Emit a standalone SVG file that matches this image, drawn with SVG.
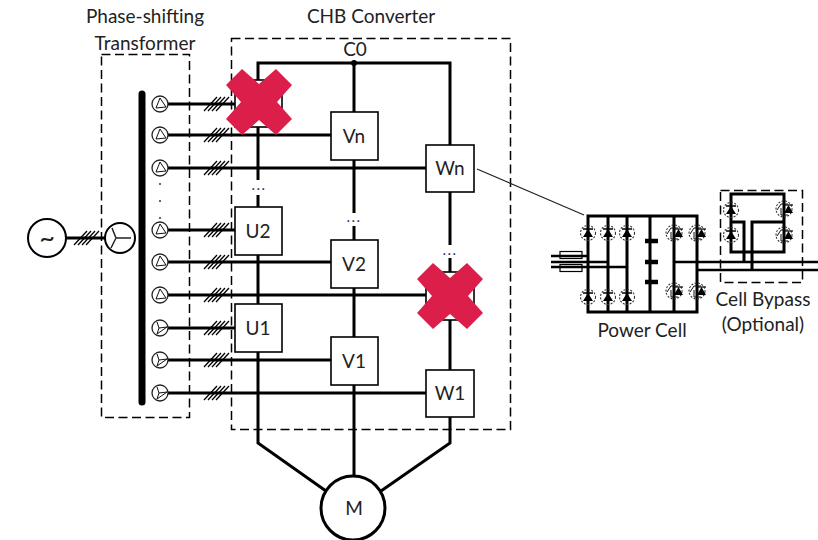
<svg xmlns="http://www.w3.org/2000/svg" xmlns:xlink="http://www.w3.org/1999/xlink" width="818" height="540" viewBox="0 0 818 540">
<style>
text{font-family:"Lato","Liberation Sans",sans-serif;font-size:19px;fill:#222;text-anchor:middle}
.w{fill:none;stroke:#000;stroke-width:3}
.t{fill:none;stroke:#111;stroke-width:1}
.box{fill:#fff;stroke:#000;stroke-width:1.6}
.dash{fill:none;stroke:#000;stroke-width:1.5;stroke-dasharray:9 4.500}
.x{fill:#dc1f4a}
.h{stroke:#000;stroke-width:1.3}
.c{fill:#fff;stroke:#222;stroke-width:1.3}
.dc{fill:none;stroke:#333;stroke-width:1.1;stroke-dasharray:2 1.5}
.f{fill:#000}
.dots{font-size:15px;letter-spacing:1.500px;fill:#1f3a6e}
</style>
<defs>
<g id="hash" class="h"><path d="M0 7L13-7M4 7L17-7M8 7L21-7M12 7L25-7"/></g>
<g id="delta"><circle class="c" r="8"/><path class="t" d="M0-6L-4 4L6 3Z"/></g>
<g id="wye"><circle class="c" r="8"/><path class="t" d="M-1 0L-3-6M-1 0L7-1M-1 0L-3 6L7-1"/></g>
<g id="diode"><circle class="dc" r="7.500"/><path class="f" d="M-5 4L5 4L0-4Z"/><path d="M-5-4H5" stroke="#000" stroke-width="1.5"/></g>
<g id="igbt"><circle class="dc" r="8"/><path class="f" d="M0 4H9L4.500-4Z"/><path d="M0-4H9" stroke="#000" stroke-width="1.2"/><path class="t" d="M-7 1L-3-5H4M-3-1V6H4"/></g>
<path id="cross" class="x" d="M0-18L17-33L33-17L18 0L33 17L17 33L0 18L-17 33L-33 17L-18 0L-33-17L-17-33Z"/>
</defs>

<g id="frames">
<rect class="dash" x="101.500" y="54.500" width="88" height="363"/>
<rect class="dash" x="231.500" y="38.500" width="279" height="391"/>
<rect class="dash" x="720.500" y="190.500" width="82" height="92"/>
</g>

<g id="connectors">
<path class="w" d="M258 127V180M258 195V207M258 80V63H450V145M450 192V245M450 258V272M450 320V370M354 63V112M354 160V213M354 226V240M354 288V337M354 385V476M258 255V304M258 352V443L326 491M450 417V443L381 491"/>
<path class="w" d="M168 104H235M168 135H331M168 168H426M168 230H235M168 262H331M168 295H426M168 328H235M168 360H331M168 393H426"/>
<path class="w" d="M66 238H105"/>
<path d="M142 94V402" stroke="#000" stroke-width="7" stroke-linecap="round" fill="none"/>
<path d="M477 169L584 215" stroke="#222" stroke-width="1.200" fill="none"/>
<use xlink:href="#hash" x="204" y="104"/><use xlink:href="#hash" x="204" y="135"/><use xlink:href="#hash" x="204" y="168"/>
<use xlink:href="#hash" x="204" y="230"/><use xlink:href="#hash" x="204" y="262"/><use xlink:href="#hash" x="204" y="295"/>
<use xlink:href="#hash" x="204" y="328"/><use xlink:href="#hash" x="204" y="360"/><use xlink:href="#hash" x="204" y="393"/>
<use xlink:href="#hash" x="74" y="238"/>
<circle cx="354" cy="63" r="3" fill="#000"/>
<circle cx="160" cy="184" r="1" fill="#333"/><circle cx="160" cy="201" r="1" fill="#333"/><circle cx="160" cy="218" r="1" fill="#333"/>
</g>

<g id="source"><circle cx="47" cy="238" r="19" fill="#fff" stroke="#000" stroke-width="2"/><text x="47" y="247" style="font-size:27px">~</text></g>
<g id="primary"><circle cx="120" cy="238" r="15" fill="#fff" stroke="#000" stroke-width="2"/><path d="M116 238L112 228M116 238L131 238M116 238L111 248" fill="none" stroke="#222" stroke-width="1.500"/></g>

<g id="secondaries">
<use xlink:href="#delta" x="160" y="104"/><use xlink:href="#delta" x="160" y="135"/><use xlink:href="#delta" x="160" y="168"/>
<use xlink:href="#delta" x="160" y="230"/><use xlink:href="#delta" x="160" y="262"/><use xlink:href="#delta" x="160" y="295"/>
<use xlink:href="#wye" x="160" y="328"/><use xlink:href="#wye" x="160" y="360"/><use xlink:href="#wye" x="160" y="393"/>
</g>

<g id="Un"><rect class="box" x="235" y="80" width="47" height="47"/></g>
<g id="U2"><rect class="box" x="235" y="207" width="47" height="48"/><text x="258" y="238">U2</text></g>
<g id="U1"><rect class="box" x="235" y="304" width="47" height="48"/><text x="258" y="335">U1</text></g>
<g id="Vn"><rect class="box" x="331" y="112" width="47" height="48"/><text x="354" y="143">Vn</text></g>
<g id="V2"><rect class="box" x="331" y="240" width="47" height="48"/><text x="354" y="271">V2</text></g>
<g id="V1"><rect class="box" x="331" y="337" width="47" height="48"/><text x="354" y="368">V1</text></g>
<g id="Wn"><rect class="box" x="426" y="145" width="48" height="47"/><text x="450" y="175">Wn</text></g>
<g id="W2"><rect class="box" x="426" y="272" width="48" height="48"/></g>
<g id="W1"><rect class="box" x="426" y="370" width="48" height="47"/><text x="450" y="400">W1</text></g>
<g id="motor"><circle cx="353" cy="508" r="32" fill="#fff" stroke="#000" stroke-width="3"/><text x="354" y="515">M</text></g>

<g id="ellipsis"><text class="dots" x="259" y="190">...</text><text class="dots" x="354" y="222">...</text><text class="dots" x="450" y="255">...</text></g>

<g id="failures"><use xlink:href="#cross" x="259" y="102"/><use xlink:href="#cross" x="450" y="296"/></g>

<g id="power-cell">
<path class="w" d="M588 216H697V312H588ZM608 216V312M627 216V312M650 216V312M674 216V312"/>
<path d="M551 256H588M551 262H608M551 267H627M674 262H818M697 270H818" fill="none" stroke="#000" stroke-width="2.400"/>
<rect x="560" y="251.500" width="22" height="7" fill="none" stroke="#000" stroke-width="1.200"/>
<rect x="560" y="264.500" width="22" height="7" fill="none" stroke="#000" stroke-width="1.200"/>
<path d="M645 241H658M645 262H658M645 282H658" stroke="#000" stroke-width="4.500" fill="none"/>
<use xlink:href="#diode" x="588" y="233"/><use xlink:href="#diode" x="608" y="233"/><use xlink:href="#diode" x="627" y="233"/>
<use xlink:href="#diode" x="588" y="297"/><use xlink:href="#diode" x="608" y="297"/><use xlink:href="#diode" x="627" y="297"/>
<use xlink:href="#igbt" x="674" y="233"/><use xlink:href="#igbt" x="697" y="233"/>
<use xlink:href="#igbt" x="674" y="291"/><use xlink:href="#igbt" x="697" y="291"/>
<text x="642" y="337">Power Cell</text>
</g>

<g id="cell-bypass">
<path class="w" d="M731 194H784V252H731ZM731 222H744V262M784 222H752V270"/>
<use xlink:href="#diode" x="731" y="210"/><use xlink:href="#diode" x="731" y="235"/>
<use xlink:href="#igbt" x="784" y="209"/><use xlink:href="#igbt" x="784" y="235"/>
<text x="763" y="306">Cell Bypass</text>
<text x="763" y="331">(Optional)</text>
</g>

<g id="labels">
<text x="145" y="23">Phase-shifting</text>
<text x="145" y="50">Transformer</text>
<text x="371" y="23">CHB Converter</text>
<text x="355" y="56">C0</text>
</g>
</svg>
